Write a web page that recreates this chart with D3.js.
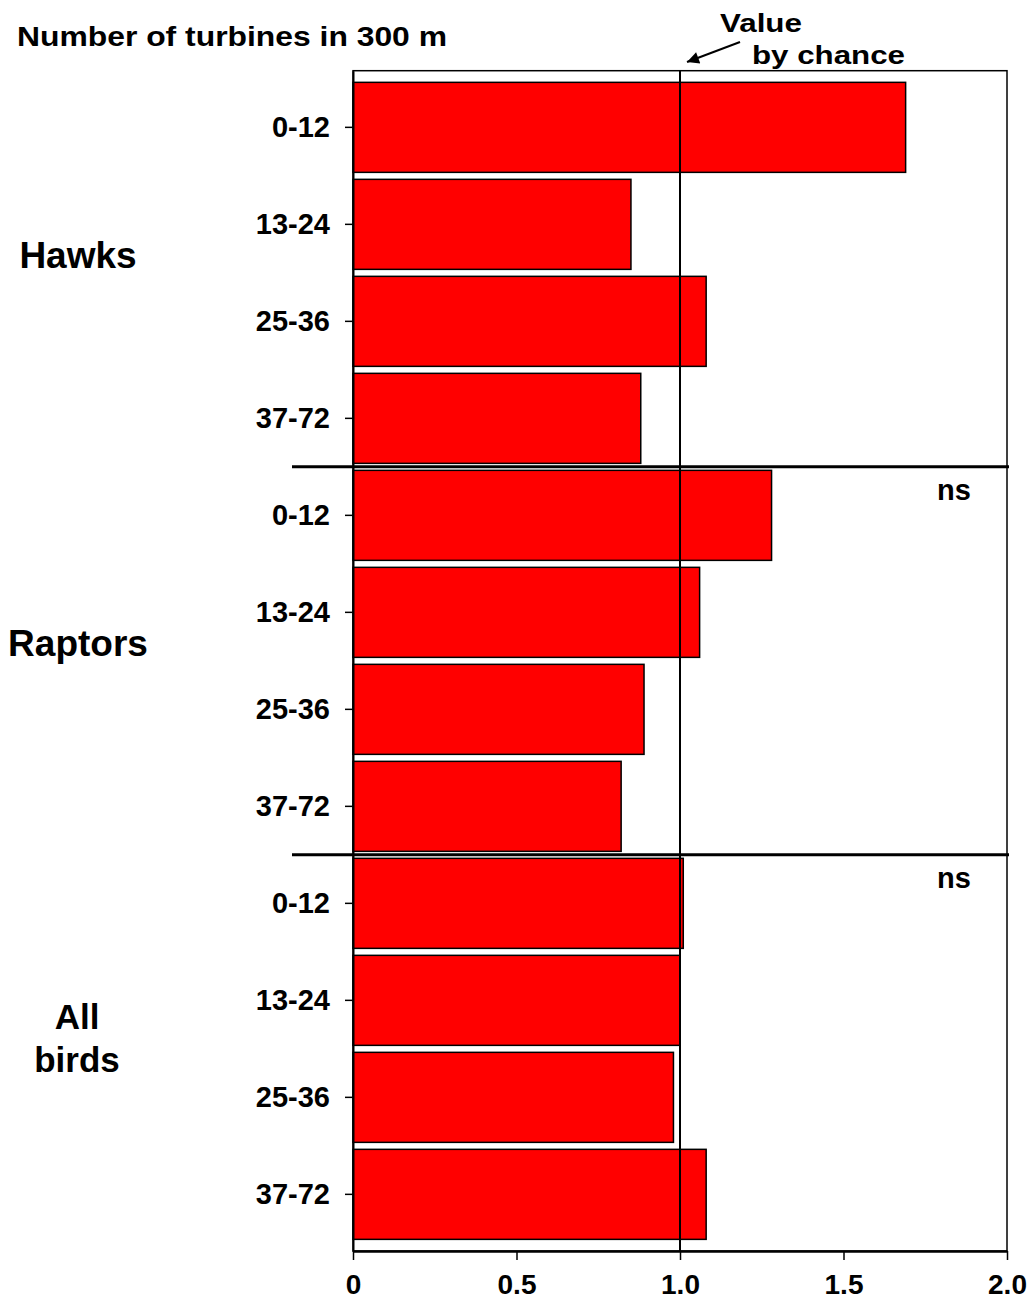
<!DOCTYPE html>
<html>
<head>
<meta charset="utf-8">
<script src="https://cdn.jsdelivr.net/npm/d3@7"></script>
<style>
  body { margin: 0; background: #fff; }
  svg text { font-family: "Liberation Sans", Arial, sans-serif; font-weight: bold; fill: #000; }
</style>
</head>
<body>
<svg id="chart" width="1036" height="1302"></svg>
<script>
// data
const groups = ["Hawks", "Raptors", "All birds"];
const classes = ["0-12", "13-24", "25-36", "37-72"];
const hawks = [1.69, 0.85, 1.08, 0.88];
const raptors = [1.28, 1.06, 0.89, 0.82];
const allBirds = [1.01, 1.00, 0.98, 1.08];
const xTicks = [0, 0.5, 1.0, 1.5, 2.0];
const chanceValue = 1.0;
const groupNotes = ["", "ns", "ns"];

const seriesByGroup = [hawks, raptors, allBirds];

// flatten to rows, top to bottom
const rows = [];
seriesByGroup.forEach((vals, g) => {
    vals.forEach((v, i) => rows.push({ group: g, cls: classes[i], value: v, idx: rows.length }));
});

const svg = d3.select('#chart');

const plot = { left: 353, right: 1007, top: 70.7, bottom: 1251 };

const x = d3.scaleLinear().domain([0, 2]).range([plot.left, plot.right]);
const y = d3.scaleBand()
    .domain(rows.map(d => d.idx))
    .range([plot.top, plot.bottom])
    .paddingInner(0.072)
    .paddingOuter(0.12);

// bars
svg.append('g').attr('class', 'bars')
    .selectAll('rect')
    .data(rows)
    .enter()
    .append('rect')
    .attr('x', x(0))
    .attr('y', d => y(d.idx))
    .attr('width', d => x(d.value) - x(0))
    .attr('height', y.bandwidth())
    .attr('fill', '#ff0000')
    .attr('stroke', '#000')
    .attr('stroke-width', 1.5);

// value by chance line
svg.append('line')
    .attr('x1', x(chanceValue)).attr('x2', x(chanceValue))
    .attr('y1', plot.top).attr('y2', plot.bottom)
    .attr('stroke', '#000')
    .attr('stroke-width', 2);

// frame
svg.append('rect')
    .attr('x', plot.left).attr('y', plot.top)
    .attr('width', plot.right - plot.left)
    .attr('height', plot.bottom - plot.top)
    .attr('fill', 'none')
    .attr('stroke', '#000')
    .attr('stroke-width', 1.5);

// x axis
const xAxis = svg.append('g')
    .attr('transform', `translate(0,${plot.bottom})`)
    .call(d3.axisBottom(x)
        .tickValues(xTicks)
        .tickFormat(d => d === 0 ? '0' : d3.format('.1f')(d))
        .tickSize(9)
        .tickPadding(14)
        .tickSizeOuter(0));
xAxis.select('.domain').attr('stroke-width', 2.5);
xAxis.selectAll('.tick line').attr('stroke-width', 1.5);
xAxis.selectAll('text').style('font-size', '28px').attr('font-family', null);

// y axis
const yAxis = svg.append('g')
    .attr('transform', `translate(${plot.left},0)`)
    .call(d3.axisLeft(y)
        .tickFormat(i => rows[i].cls)
        .tickSize(8)
        .tickPadding(15)
        .tickSizeOuter(0));
yAxis.select('.domain').attr('stroke-width', 2);
yAxis.selectAll('.tick line').attr('stroke-width', 1.5);
yAxis.selectAll('text').style('font-size', '29px').attr('font-family', null);

// group separators + notes
const half = y.step() * y.paddingInner() / 2;
[1, 2].forEach(g => {
    const sy = y(g * classes.length) - half;
    svg.append('line')
        .attr('x1', 292).attr('x2', 1009)
        .attr('y1', sy).attr('y2', sy)
        .attr('stroke', '#000')
        .attr('stroke-width', 3);
    svg.append('text')
        .attr('x', 954).attr('y', sy + 33)
        .attr('text-anchor', 'middle')
        .style('font-size', '29px')
        .text(groupNotes[g]);
});

// group labels
groups.forEach((name, g) => {
    const first = y(g * classes.length);
    const last = y((g + 1) * classes.length - 1) + y.bandwidth();
    const cy = (first + last) / 2;
    const words = name === 'All birds' ? ['All', 'birds'] : [name];
    const t = svg.append('text')
        .attr('text-anchor', 'middle')
        .style('font-size', words.length > 1 ? '35px' : '37px');
    if (words.length === 1) {
        t.attr('x', 78).attr('y', cy - 5).text(name);
    } else {
        t.append('tspan').attr('x', 77).attr('y', cy - 20).text(words[0]);
        t.append('tspan').attr('x', 77).attr('y', cy + 23).text(words[1]);
    }
});

// title
svg.append('text')
    .attr('x', 17).attr('y', 46)
    .attr('textLength', 430)
    .attr('lengthAdjust', 'spacingAndGlyphs')
    .style('font-size', '28px')
    .text('Number of turbines in 300 m');

// "Value by chance" annotation
svg.append('text')
    .attr('x', 720).attr('y', 32)
    .attr('textLength', 82)
    .attr('lengthAdjust', 'spacingAndGlyphs')
    .style('font-size', '26px')
    .text('Value');
svg.append('text')
    .attr('x', 752).attr('y', 64)
    .attr('textLength', 153)
    .attr('lengthAdjust', 'spacingAndGlyphs')
    .style('font-size', '26px')
    .text('by chance');

svg.append('defs').append('marker')
    .attr('id', 'arrowHead')
    .attr('viewBox', '0 0 10 10')
    .attr('refX', 10).attr('refY', 5)
    .attr('markerWidth', 7).attr('markerHeight', 6)
    .attr('markerUnits', 'strokeWidth')
    .attr('orient', 'auto')
    .append('path')
    .attr('d', 'M0,0 L10,5 L0,10 Z')
    .attr('fill', '#000');

svg.append('line')
    .attr('x1', 740).attr('y1', 42)
    .attr('x2', 687).attr('y2', 62)
    .attr('stroke', '#000')
    .attr('stroke-width', 2)
    .attr('marker-end', 'url(#arrowHead)');
</script>
</body>
</html>
